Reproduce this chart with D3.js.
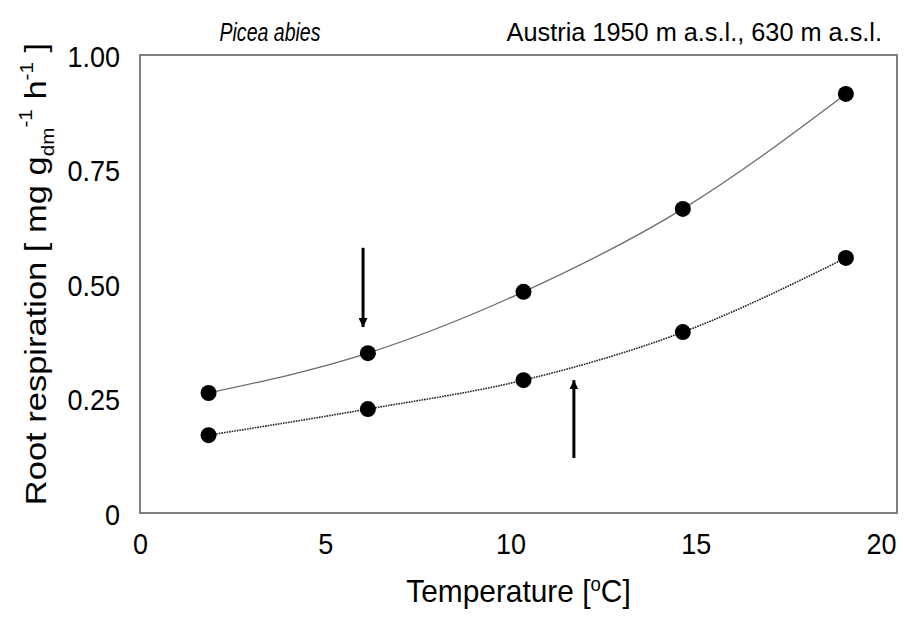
<!DOCTYPE html>
<html>
<head>
<meta charset="utf-8">
<script src="https://cdn.jsdelivr.net/npm/d3@7"></script>
<style>
  body { margin: 0; background: #fff; }
  svg { font-family: "Liberation Sans", Arial, sans-serif; }
</style>
</head>
<body>
<div id="chart"></div>
<script>
// temperatures of the measurements
const temps = [1.85, 6.15, 10.35, 14.65, 19.05];
// root respiration, 1950 m a.s.l. (solid) and 630 m a.s.l. (dotted)
const highSite = [0.262, 0.349, 0.483, 0.664, 0.915];
const lowSite = [0.170, 0.227, 0.290, 0.395, 0.557];
const xTicks = [0, 5, 10, 15, 20];
const yTicks = [0, 0.25, 0.5, 0.75, 1.0];
// arrows: [x, from y, to y]
const arrows = [[6.02, 0.579, 0.406], [11.71, 0.120, 0.290]];

const W = 904, H = 617;
const margin = {top: 55, right: 7, bottom: 104, left: 140};
const width = W - margin.left - margin.right,
  height = H - margin.top - margin.bottom;
const tall = 1.1; // letters in the picture are a bit taller than wide

const svg = d3.select("#chart").append("svg")
  .attr("width", W)
  .attr("height", H);

svg.append("defs").append("marker")
  .attr("id", "head")
  .attr("viewBox", "0 0 10 10")
  .attr("refX", 10).attr("refY", 5)
  .attr("markerWidth", 3.2).attr("markerHeight", 3)
  .attr("markerUnits", "strokeWidth")
  .attr("orient", "auto")
  .append("path")
  .attr("d", "M0,0 L10,5 L0,10 z")
  .attr("fill", "#000");

const plot = svg.append("g")
  .attr("transform", "translate(" + margin.left + "," + margin.top + ")");

const x = d3.scaleLinear().domain([0, 20.43]).range([0, width]);
const y = d3.scaleLinear().domain([0, 1.0]).range([height, 0]);

// frame
plot.append("rect")
  .attr("x", 0).attr("y", 0)
  .attr("width", width).attr("height", height)
  .attr("fill", "none")
  .attr("stroke", "#7f7f7f")
  .attr("stroke-width", 2);

// tick labels
const fmt = d => d === 0 ? "0" : d3.format(".2f")(d);
const xAxis = d3.axisBottom(x).tickValues(xTicks).tickSize(0).tickFormat(d3.format("d"));
const yAxis = d3.axisLeft(y).tickValues(yTicks).tickSize(0).tickFormat(fmt);

const gx = plot.append("g").attr("transform", "translate(0," + height + ")").call(xAxis);
const gy = plot.append("g").call(yAxis);
[gx, gy].forEach(g => {
  g.select(".domain").remove();
  g.selectAll("text")
    .style("font-size", "27px")
    .attr("fill", "#000");
});
gx.selectAll(".tick text")
  .attr("y", 0).attr("dy", null)
  .attr("transform", "translate(0,41) scale(1," + tall + ")");
gy.selectAll(".tick text")
  .attr("x", 0).attr("dy", null)
  .attr("transform", "translate(-20,11) scale(1," + tall + ")");

// curves
const line = d3.line()
  .x(d => x(d[0]))
  .y(d => y(d[1]))
  .curve(d3.curveMonotoneX);

plot.append("path")
  .datum(d3.zip(temps, highSite))
  .attr("d", line)
  .attr("fill", "none")
  .attr("stroke", "#6b6b6b")
  .attr("stroke-width", 1.3);

plot.append("path")
  .datum(d3.zip(temps, lowSite))
  .attr("d", line)
  .attr("fill", "none")
  .attr("stroke", "#222")
  .attr("stroke-width", 1.6)
  .attr("stroke-dasharray", "1.6,1");

[highSite, lowSite].forEach(s => {
  plot.selectAll(null)
    .data(d3.zip(temps, s))
    .enter().append("circle")
    .attr("cx", d => x(d[0]))
    .attr("cy", d => y(d[1]))
    .attr("r", 8)
    .attr("fill", "#000");
});

// arrows
plot.selectAll(".arrow")
  .data(arrows)
  .enter().append("line")
  .attr("class", "arrow")
  .attr("x1", d => x(d[0])).attr("x2", d => x(d[0]))
  .attr("y1", d => y(d[1])).attr("y2", d => y(d[2]))
  .attr("stroke", "#000")
  .attr("stroke-width", 3)
  .attr("marker-end", "url(#head)");

// titles
svg.append("text")
  .attr("transform", "translate(270,41) scale(0.85," + tall + ")")
  .attr("text-anchor", "middle")
  .style("font-size", "23px")
  .style("font-style", "italic")
  .text("Picea abies");

svg.append("text")
  .attr("transform", "translate(882,41) scale(1.1," + tall + ")")
  .attr("text-anchor", "end")
  .style("font-size", "23px")
  .text("Austria 1950 m a.s.l., 630 m a.s.l.");

const xt = svg.append("text")
  .attr("transform", "translate(" + (margin.left + width / 2) + ",602) scale(1.03," + tall + ")")
  .attr("text-anchor", "middle")
  .style("font-size", "29px");
xt.append("tspan").text("Temperature [");
xt.append("tspan").attr("dy", -10).style("font-size", "18px").text("o");
xt.append("tspan").attr("dy", 10).text("C]");

const yt = svg.append("text")
  .attr("transform", "translate(46,274) scale(1,1.15) rotate(-90)")
  .attr("text-anchor", "middle")
  .style("font-size", "30px");
yt.append("tspan").text("Root respiration [ mg g");
yt.append("tspan").attr("dy", 8).style("font-size", "18px").text("dm");
yt.append("tspan").attr("dy", -22).style("font-size", "18px").text("-1");
yt.append("tspan").attr("dy", 14).text(" h");
yt.append("tspan").attr("dy", -13).style("font-size", "18px").text("-1");
yt.append("tspan").attr("dy", 13).text(" ]");
</script>
</body>
</html>
